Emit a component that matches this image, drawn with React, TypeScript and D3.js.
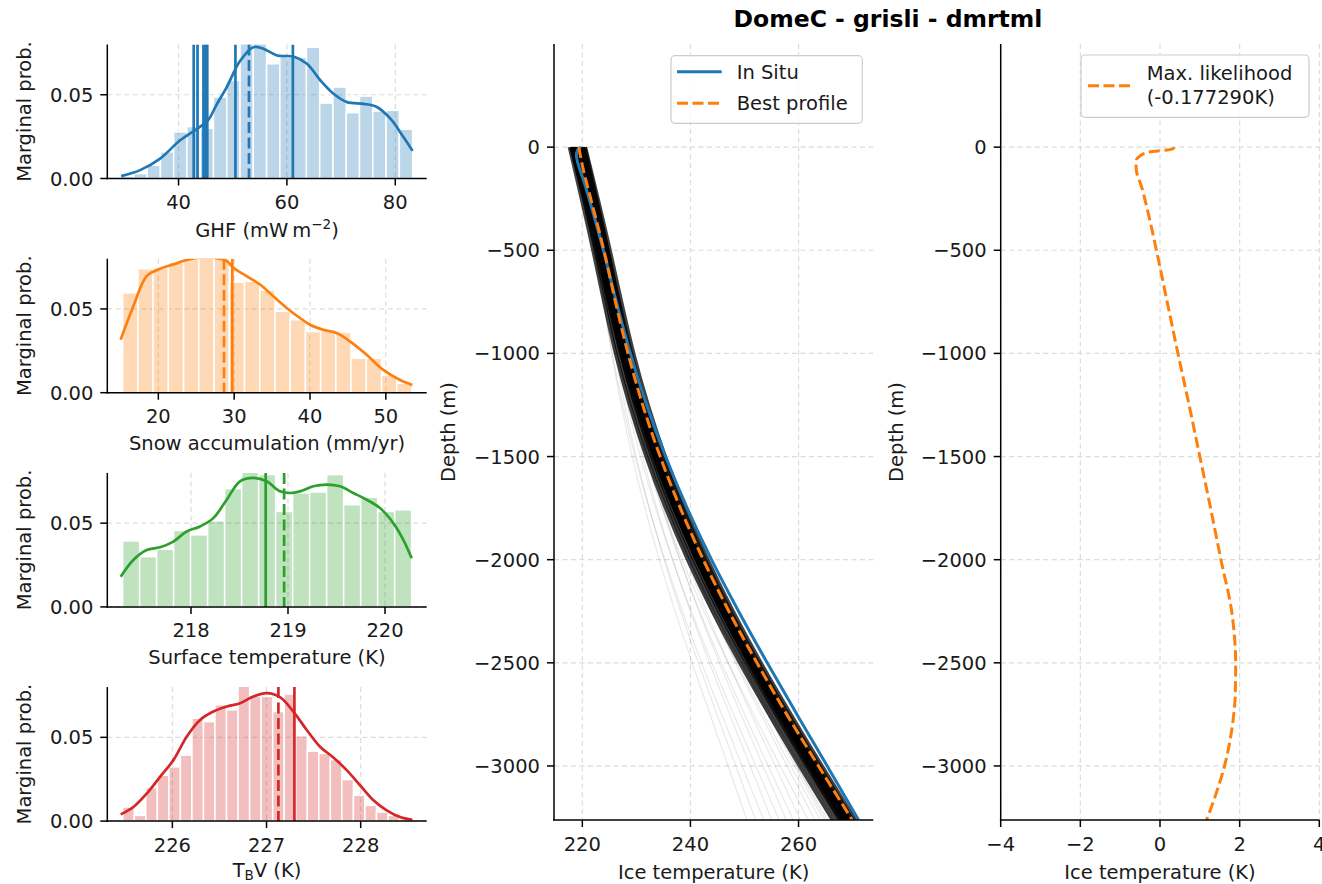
import React from 'react';
import * as d3 from 'd3';

const FONT = "'DejaVu Sans', sans-serif";
const FS = 19.5;
const TXT = '#1a1a1a';
const BLUE = '#1f77b4';
const ORANGE = '#ff7f0e';
const GREEN = '#2ca02c';
const RED = '#d62728';

// ---------------- data: marginal histograms ----------------
const probTicks = [0, 0.05];
const probLim = [0, 0.08];

const ghfRange = [29.3, 83.2];
const ghfProb = [0.0014, 0.003, 0.0079, 0.0159, 0.0278, 0.031, 0.030, 0.0486, 0.0585, 0.085, 0.082, 0.0685, 0.0724, 0.0724, 0.0784, 0.045, 0.0546, 0.0393, 0.0492, 0.0403, 0.0407, 0.0294];
const ghfKdeX = [29.4, 32.9, 36.6, 40.3, 44.0, 45.5, 47.0, 48.9, 51.4, 53.8, 55.7, 58.2, 61.2, 63.7, 66.2, 68.6, 71.1, 74.2, 76.6, 79.1, 81.5, 83.2];
const ghfKdeP = [0.0014, 0.005, 0.0119, 0.0228, 0.031, 0.035, 0.044, 0.0546, 0.0704, 0.0784, 0.0774, 0.0734, 0.0728, 0.0685, 0.0585, 0.0506, 0.0456, 0.0446, 0.0427, 0.0357, 0.0248, 0.0165];
const ghfSolid = [42.8, 43.5, 44.6, 45.0, 45.3, 50.5, 61.1];
const ghfDashed = [53.0];
const ghfTicks = [40, 60, 80];
const ghfLim = [26.85, 85.8];

const snowRange = [15.3, 53.45];
const snowProb = [0.0596, 0.074, 0.0746, 0.0776, 0.0796, 0.082, 0.082, 0.066, 0.0666, 0.0612, 0.0486, 0.0436, 0.0366, 0.0376, 0.036, 0.0206, 0.0206, 0.0106, 0.0056];
const snowKdeX = [15.03, 16.7, 18.46, 20.22, 21.98, 23.74, 25.49, 27.25, 29.01, 29.89, 31.65, 33.41, 35.16, 36.92, 38.68, 40.0, 41.76, 43.52, 45.27, 47.47, 49.67, 51.87, 53.49];
const snowKdeP = [0.0316, 0.0516, 0.0696, 0.074, 0.0766, 0.0792, 0.0806, 0.0806, 0.0786, 0.0746, 0.0696, 0.0646, 0.0576, 0.0506, 0.0446, 0.0406, 0.0376, 0.0356, 0.0306, 0.0226, 0.0136, 0.0076, 0.0046];
const snowSolid = [29.76];
const snowDashed = [28.66];
const snowTicks = [20, 30, 40, 50];
const snowLim = [13.27, 55.39];

const surfRange = [217.295, 220.275];
const surfProb = [0.0394, 0.030, 0.0344, 0.0456, 0.043, 0.0514, 0.0706, 0.081, 0.079, 0.057, 0.068, 0.0686, 0.079, 0.061, 0.0654, 0.057, 0.058];
const surfKdeX = [217.275, 217.405, 217.543, 217.68, 217.818, 217.955, 218.093, 218.23, 218.368, 218.505, 218.643, 218.78, 218.918, 219.021, 219.124, 219.261, 219.399, 219.536, 219.674, 219.811, 219.948, 220.086, 220.189, 220.275];
const surfKdeP = [0.018, 0.028, 0.034, 0.0356, 0.039, 0.045, 0.048, 0.053, 0.064, 0.075, 0.077, 0.075, 0.069, 0.068, 0.069, 0.072, 0.073, 0.072, 0.068, 0.064, 0.059, 0.050, 0.040, 0.029];
const surfSolid = [218.77];
const surfDashed = [218.96];
const surfTicks = [218, 219, 220];
const surfLim = [217.137, 220.43];

const tbvRange = [225.473, 228.535];
const tbvProb = [0.0084, 0.0034, 0.020, 0.0274, 0.0324, 0.0394, 0.0614, 0.0594, 0.0694, 0.0664, 0.082, 0.0744, 0.0744, 0.0654, 0.0758, 0.051, 0.0418, 0.0404, 0.0368, 0.0248, 0.0154, 0.0094, 0.0054, 0.0034, 0.0014];
const tbvKdeX = [225.451, 225.586, 225.727, 225.869, 226.011, 226.152, 226.294, 226.435, 226.577, 226.719, 226.86, 227.002, 227.143, 227.285, 227.427, 227.568, 227.71, 227.851, 227.993, 228.135, 228.276, 228.418, 228.549];
const tbvKdeP = [0.004, 0.0084, 0.0164, 0.0264, 0.0364, 0.0504, 0.0604, 0.0654, 0.0684, 0.0704, 0.0744, 0.0764, 0.074, 0.0654, 0.0544, 0.0444, 0.038, 0.0304, 0.0214, 0.0124, 0.0064, 0.0024, 0.0008];
const tbvSolid = [227.296];
const tbvDashed = [227.126];
const tbvTicks = [226, 227, 228];
const tbvLim = [225.309, 228.701];

// ---------------- data: temperature profiles ----------------
const depthTicks = [0, -500, -1000, -1500, -2000, -2500, -3000];
const depthLim = [-3262, 500];
const iceTicks = [220, 240, 260];
const iceLim = [214.76, 273.83];
const diffTicks = [-4, -2, 0, 2, 4];
const diffLim = [-4, 4];

const inSituDepth = [0, -15, -40, -80, -150, -300, -500, -750, -1000, -1250, -1500, -1750, -2000, -2250, -2500, -2750, -3000, -3262];
const inSituT = [219.7, 219.1, 218.9, 219.2, 220.1, 221.8, 223.9, 226.3, 228.9, 231.9, 235.4, 239.4, 243.9, 248.9, 254.2, 259.7, 265.3, 271.1];

const bestDepth = [0, -100, -250, -500, -750, -1000, -1250, -1500, -1750, -2000, -2250, -2500, -2750, -3000, -3262];
const bestT = [219.34, 220.1, 221.56, 223.99, 226.12, 228.45, 231.17, 234.4, 238.13, 242.37, 247.1, 252.3, 257.82, 263.68, 269.93];

const ensDepth = [0, -500, -1000, -1500, -2000, -2500, -3000, -3262];
const ensCore = [
  [217.64, 222.0, 226.17, 231.83, 239.51, 249.14, 260.23, 266.33],
  [218.04, 222.46, 226.69, 232.41, 240.15, 249.85, 261.0, 267.13],
  [218.44, 222.89, 227.15, 232.9, 240.67, 250.4, 261.58, 267.73],
  [218.84, 223.31, 227.58, 233.35, 241.13, 250.88, 262.08, 268.23],
  [219.14, 223.62, 227.91, 233.69, 241.5, 251.26, 262.47, 268.63],
  [219.44, 223.95, 228.27, 234.09, 241.92, 251.71, 262.95, 269.13],
  [219.84, 224.37, 228.7, 234.53, 242.38, 252.19, 263.44, 269.63],
  [220.14, 224.68, 229.04, 234.88, 242.74, 252.56, 263.84, 270.03],
  [220.54, 225.1, 229.47, 235.32, 243.2, 253.04, 264.33, 270.53],
  [217.94, 222.65, 227.17, 233.18, 241.22, 251.21, 262.65, 268.93],
  [220.44, 224.68, 228.72, 234.26, 241.81, 251.33, 262.3, 268.33],
  [218.64, 223.34, 227.84, 233.84, 241.85, 251.83, 263.26, 269.53],
  [219.64, 223.92, 228.01, 233.6, 241.2, 250.76, 261.77, 267.83],
  [218.24, 222.95, 227.47, 233.48, 241.52, 251.51, 262.95, 269.23],
];
const ensFan = [
  [218.04, 222.27, 225.44, 229.24, 234.23, 240.32, 246.98, 250.43],
  [218.54, 222.8, 226.04, 229.97, 235.14, 241.46, 248.41, 252.03],
  [217.84, 222.15, 225.55, 229.74, 235.27, 242.05, 249.57, 253.53],
  [219.24, 223.55, 226.96, 231.16, 236.71, 243.51, 251.06, 255.03],
  [218.34, 222.7, 226.27, 230.75, 236.67, 243.96, 252.1, 256.43],
  [219.84, 224.2, 227.76, 232.21, 238.09, 245.35, 253.44, 257.73],
  [218.94, 223.35, 227.06, 231.77, 238.02, 245.74, 254.4, 259.03],
  [220.14, 224.55, 228.27, 233.0, 239.26, 247.0, 255.68, 260.33],
  [217.94, 222.44, 226.42, 231.58, 238.45, 246.97, 256.61, 261.83],
  [219.54, 224.03, 227.98, 233.09, 239.9, 248.33, 257.87, 263.03],
  [218.64, 223.17, 227.26, 232.6, 239.71, 248.55, 258.58, 264.03],
  [220.34, 224.85, 228.9, 234.15, 241.15, 249.84, 259.69, 265.03],
  [219.04, 223.61, 227.81, 233.34, 240.72, 249.89, 260.33, 266.03],
  [218.24, 222.81, 227.03, 232.58, 239.99, 249.2, 259.7, 265.43],
  [219.74, 224.3, 228.5, 234.02, 241.38, 250.53, 260.95, 266.63],
  [220.04, 224.55, 228.59, 233.83, 240.81, 249.48, 259.3, 264.63],
];

const diffDepth = [0, -10, -25, -45, -60, -100, -200, -300, -500, -750, -1000, -1250, -1500, -1750, -2000, -2250, -2400, -2500, -2650, -2800, -3000, -3150, -3262];
const diffT = [0.36, 0.30, -0.30, -0.52, -0.59, -0.60, -0.45, -0.32, -0.09, 0.18, 0.45, 0.73, 1.00, 1.27, 1.53, 1.80, 1.88, 1.90, 1.89, 1.82, 1.62, 1.38, 1.17];

const titleText = 'DomeC - grisli - dmrtml';
const legendMid = ['In Situ', 'Best profile'];
const legendRight = ['Max. likelihood', '(-0.177290K)'];

// ---------------- helpers ----------------
const fmt = (v: number) => (v < 0 ? '\u2212' + Math.abs(v) : String(v));
const GRID = { stroke: '#dcdcdc', strokeWidth: 1.2, strokeDasharray: '5,3.5' };
const SPINE = { stroke: '#000', strokeWidth: 1.5 };
const TICKLEN = 7;

const HX0 = 107.3;
const HX1 = 426.7;
const HH = 134;

function Hist(props: any) {
  const { id, top, color, lim, ticks, range, probs, kdeX, kdeP, solid, dashed, label, labelOff } = props;
  const bottom = top + HH;
  const xs = d3.scaleLinear().domain(lim).range([HX0, HX1]);
  const ys = d3.scaleLinear().domain(probLim).range([bottom, top]);
  const n = probs.length;
  const bw = (range[1] - range[0]) / n;
  const kde = d3
    .line<number>()
    .x((v) => xs(v))
    .y((_, i) => ys(kdeP[i]))
    .curve(d3.curveCatmullRom.alpha(0.5))(kdeX) as string;
  return (
    <g>
      <defs>
        <clipPath id={id}>
          <rect x={HX0} y={top} width={HX1 - HX0} height={HH} />
        </clipPath>
      </defs>
      {ticks.map((t: number) => (
        <line key={'gx' + t} x1={xs(t)} x2={xs(t)} y1={top} y2={bottom} {...GRID} />
      ))}
      {probTicks.map((t) => (
        <line key={'gy' + t} x1={HX0} x2={HX1} y1={ys(t)} y2={ys(t)} {...GRID} />
      ))}
      <g clipPath={`url(#${id})`}>
        {probs.map((p: number, i: number) => {
          const a = xs(range[0] + i * bw);
          const b = xs(range[0] + (i + 1) * bw);
          return (
            <rect key={i} x={a} y={ys(p)} width={b - a} height={bottom - ys(p)} fill={color} fillOpacity={0.3} stroke="#fff" strokeWidth={1.5} />
          );
        })}
        <path d={kde} fill="none" stroke={color} strokeWidth={2.7} />
        {solid.map((v: number, i: number) => (
          <line key={'s' + i} x1={xs(v)} x2={xs(v)} y1={top} y2={bottom} stroke={color} strokeWidth={2.7} />
        ))}
        {dashed.map((v: number, i: number) => (
          <line key={'d' + i} x1={xs(v)} x2={xs(v)} y1={top} y2={bottom} stroke={color} strokeWidth={2.7} strokeDasharray="11,4.5" />
        ))}
      </g>
      <line x1={HX0} x2={HX0} y1={top} y2={bottom + 0.75} {...SPINE} />
      <line x1={HX0 - 0.75} x2={HX1} y1={bottom} y2={bottom} {...SPINE} />
      {ticks.map((t: number) => (
        <g key={'tx' + t}>
          <line x1={xs(t)} x2={xs(t)} y1={bottom} y2={bottom + TICKLEN} {...SPINE} />
          <text x={xs(t)} y={bottom + 30.5} textAnchor="middle" fontSize={FS} fontFamily={FONT} fill={TXT}>
            {fmt(t)}
          </text>
        </g>
      ))}
      {probTicks.map((t) => (
        <g key={'ty' + t}>
          <line x1={HX0 - TICKLEN} x2={HX0} y1={ys(t)} y2={ys(t)} {...SPINE} />
          <text x={HX0 - 14} y={ys(t)} dy="0.36em" textAnchor="end" fontSize={FS} fontFamily={FONT} fill={TXT}>
            {t.toFixed(2)}
          </text>
        </g>
      ))}
      <text x={(HX0 + HX1) / 2} y={bottom + (labelOff ?? 58)} textAnchor="middle" fontSize={FS} fontFamily={FONT} fill={TXT}>
        {label}
      </text>
      <text transform={`translate(31,${(top + bottom) / 2}) rotate(-90)`} textAnchor="middle" fontSize={FS} fontFamily={FONT} fill={TXT}>
        Marginal prob.
      </text>
    </g>
  );
}

const PY0 = 44;
const PY1 = 820;
const MX0 = 554;
const MX1 = 873.3;
const RX0 = 1000.7;
const RX1 = 1319.3;

function DepthAxes(props: any) {
  const { x0, x1, xs, xticks, labelX } = props;
  const yd = d3.scaleLinear().domain(depthLim).range([PY1, PY0]);
  return (
    <g>
      <line x1={x0} x2={x0} y1={PY0} y2={PY1 + 0.75} {...SPINE} />
      <line x1={x0 - 0.75} x2={x1} y1={PY1} y2={PY1} {...SPINE} />
      {xticks.map((t: number) => (
        <g key={'tx' + t}>
          <line x1={xs(t)} x2={xs(t)} y1={PY1} y2={PY1 + TICKLEN} {...SPINE} />
          <text x={xs(t)} y={PY1 + 30.5} textAnchor="middle" fontSize={FS} fontFamily={FONT} fill={TXT}>
            {fmt(t)}
          </text>
        </g>
      ))}
      {depthTicks.map((t) => (
        <g key={'ty' + t}>
          <line x1={x0 - TICKLEN} x2={x0} y1={yd(t)} y2={yd(t)} {...SPINE} />
          <text x={x0 - 14} y={yd(t)} dy="0.36em" textAnchor="end" fontSize={FS} fontFamily={FONT} fill={TXT}>
            {fmt(t)}
          </text>
        </g>
      ))}
      <text x={(x0 + x1) / 2} y={PY1 + 58.5} textAnchor="middle" fontSize={FS} fontFamily={FONT} fill={TXT}>
        Ice temperature (K)
      </text>
      <text transform={`translate(${labelX},${(PY0 + PY1) / 2}) rotate(-90)`} textAnchor="middle" fontSize={FS} fontFamily={FONT} fill={TXT}>
        Depth (m)
      </text>
    </g>
  );
}

function DepthGrid(props: any) {
  const { x0, x1, xs, xticks } = props;
  const yd = d3.scaleLinear().domain(depthLim).range([PY1, PY0]);
  return (
    <g>
      {xticks.map((t: number) => (
        <line key={'gx' + t} x1={xs(t)} x2={xs(t)} y1={PY0} y2={PY1} {...GRID} />
      ))}
      {depthTicks.map((t) => (
        <line key={'gy' + t} x1={x0} x2={x1} y1={yd(t)} y2={yd(t)} {...GRID} />
      ))}
    </g>
  );
}

export default function App() {
  const yd = d3.scaleLinear().domain(depthLim).range([PY1, PY0]);
  const xm = d3.scaleLinear().domain(iceLim).range([MX0, MX1]);
  const xr = d3.scaleLinear().domain(diffLim).range([RX0, RX1]);

  const profile = (depths: number[], xsc: any, curve: any) =>
    d3
      .line<number>()
      .x((v) => xsc(v))
      .y((_, i) => yd(depths[i]))
      .curve(curve);

  const ensLine = profile(ensDepth, xm, d3.curveNatural);
  const inSituPath = profile(inSituDepth, xm, d3.curveMonotoneY)(inSituT) as string;
  const bestPath = profile(bestDepth, xm, d3.curveMonotoneY)(bestT) as string;
  const diffPath = profile(diffDepth, xr, d3.curveMonotoneY)(diffT) as string;

  const ghfLabel = (
    <>
      <tspan>GHF (mW{'\u2009'}m</tspan>
      <tspan dy={-8} fontSize={13.5}>
        {'\u2212'}2
      </tspan>
      <tspan dy={8}>)</tspan>
    </>
  );
  const tbvLabel = (
    <>
      <tspan>T</tspan>
      <tspan dy={3.5} fontSize={13.5}>
        B
      </tspan>
      <tspan dy={-3.5}>V (K)</tspan>
    </>
  );

  return (
    <div style={{ position: 'absolute', left: 0, top: 0 }}>
      <svg width={1322} height={884} viewBox="0 0 1322 884" style={{ display: 'block', background: '#fff' }}>
        <rect x={0} y={0} width={1322} height={884} fill="#fff" />
        <text x={888} y={27} textAnchor="middle" fontSize={23.5} fontWeight="bold" fontFamily={FONT} fill="#000">
          {titleText}
        </text>

        <Hist id="c1" top={44.5} color={BLUE} lim={ghfLim} ticks={ghfTicks} range={ghfRange} probs={ghfProb} kdeX={ghfKdeX} kdeP={ghfKdeP} solid={ghfSolid} dashed={ghfDashed} label={ghfLabel} labelOff={58} />
        <Hist id="c2" top={258.7} color={ORANGE} lim={snowLim} ticks={snowTicks} range={snowRange} probs={snowProb} kdeX={snowKdeX} kdeP={snowKdeP} solid={snowSolid} dashed={snowDashed} label="Snow accumulation (mm/yr)" labelOff={57} />
        <Hist id="c3" top={472.9} color={GREEN} lim={surfLim} ticks={surfTicks} range={surfRange} probs={surfProb} kdeX={surfKdeX} kdeP={surfKdeP} solid={surfSolid} dashed={surfDashed} label="Surface temperature (K)" labelOff={57} />
        <Hist id="c4" top={687.1} color={RED} lim={tbvLim} ticks={tbvTicks} range={tbvRange} probs={tbvProb} kdeX={tbvKdeX} kdeP={tbvKdeP} solid={tbvSolid} dashed={tbvDashed} label={tbvLabel} labelOff={55.5} />

        {/* middle panel */}
        <defs>
          <clipPath id="cm">
            <rect x={MX0} y={PY0} width={MX1 - MX0} height={PY1 - PY0} />
          </clipPath>
          <clipPath id="cr">
            <rect x={RX0} y={PY0} width={RX1 - RX0} height={PY1 - PY0} />
          </clipPath>
        </defs>
        <DepthGrid x0={MX0} x1={MX1} xs={xm} xticks={iceTicks} />
        <g clipPath="url(#cm)">
          {ensFan.map((m, i) => (
            <path key={'f' + i} d={ensLine(m) as string} fill="none" stroke="#000" strokeOpacity={0.09} strokeWidth={1.2} />
          ))}
          {ensCore.map((m, i) => (
            <path key={'c' + i} d={ensLine(m) as string} fill="none" stroke="#000" strokeOpacity={0.75} strokeWidth={3.8} />
          ))}
          <path d={inSituPath} fill="none" stroke={BLUE} strokeWidth={3} />
          <path d={bestPath} fill="none" stroke={ORANGE} strokeWidth={3} strokeDasharray="11,4.5" />
        </g>
        <DepthAxes x0={MX0} x1={MX1} xs={xm} xticks={iceTicks} labelX={455} />
        <g>
          <rect x={671} y={55.7} width={191.3} height={67.6} rx={4} fill="#fff" fillOpacity={0.8} stroke="#cccccc" strokeWidth={1.2} />
          <line x1={677} x2={721.7} y1={71.7} y2={71.7} stroke={BLUE} strokeWidth={3} />
          <line x1={677} x2={721.7} y1={103.3} y2={103.3} stroke={ORANGE} strokeWidth={3} strokeDasharray="11,4.5" />
          <text x={736.7} y={71.7} dy="0.36em" fontSize={FS} fontFamily={FONT} fill={TXT}>
            {legendMid[0]}
          </text>
          <text x={736.7} y={103.3} dy="0.36em" fontSize={FS} fontFamily={FONT} fill={TXT}>
            {legendMid[1]}
          </text>
        </g>

        {/* right panel */}
        <DepthGrid x0={RX0} x1={RX1} xs={xr} xticks={diffTicks} />
        <g clipPath="url(#cr)">
          <path d={diffPath} fill="none" stroke={ORANGE} strokeWidth={3} strokeDasharray="11,4.5" />
        </g>
        <DepthAxes x0={RX0} x1={RX1} xs={xr} xticks={diffTicks} labelX={903} />
        <g>
          <rect x={1081} y={55} width={228} height={62.3} rx={4} fill="#fff" fillOpacity={0.8} stroke="#cccccc" strokeWidth={1.2} />
          <line x1={1088} x2={1131} y1={85.7} y2={85.7} stroke={ORANGE} strokeWidth={3} strokeDasharray="11,4.5" />
          <text x={1146.7} y={72.7} dy="0.36em" fontSize={FS} fontFamily={FONT} fill={TXT}>
            {legendRight[0]}
          </text>
          <text x={1146.7} y={96.7} dy="0.36em" fontSize={FS} fontFamily={FONT} fill={TXT}>
            {legendRight[1]}
          </text>
        </g>
      </svg>
    </div>
  );
}
